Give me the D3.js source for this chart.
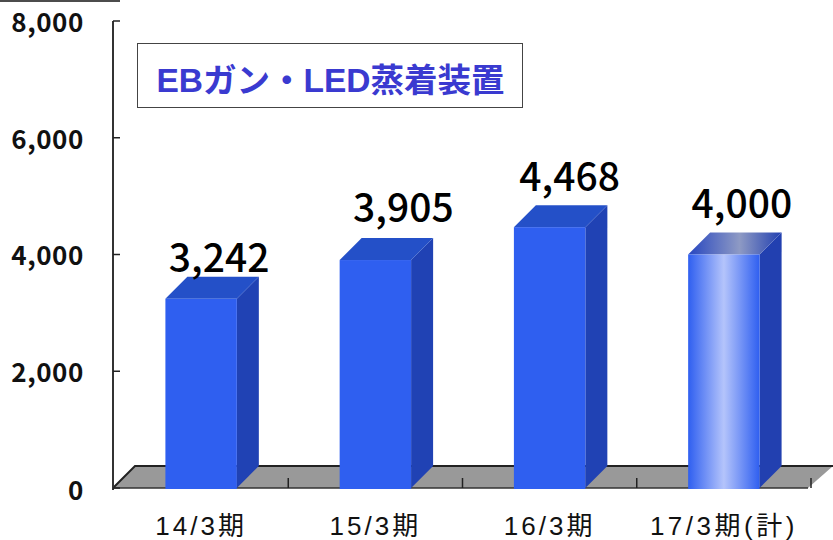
<!DOCTYPE html>
<html lang="ja">
<head>
<meta charset="utf-8">
<title>EBガン・LED蒸着装置</title>
<script src="https://d3js.org/d3.v7.min.js"></script>
<style>
    html, body { margin: 0; padding: 0; background: #fff; }
    svg { display: block; }
    text { font-family: "Noto Sans CJK JP", sans-serif; }
    .latin { font-family: "Liberation Sans", "Noto Sans CJK JP", sans-serif; }
</style>
</head>
<body>
<script>
const categories = ["14/3期", "15/3期", "16/3期", "17/3期(計)"];
const values = [3242, 3905, 4468, 4000];
const valueLabels = ["3,242", "3,905", "4,468", "4,000"];
const yTicks = [0, 2000, 4000, 6000, 8000];
const title = "EBガン・LED蒸着装置";

const width = 833, height = 540;
const depth = 22;

const svg = d3.select("body").append("svg")
    .attr("width", width)
    .attr("height", height);

const y = d3.scaleLinear().domain([0, 8000]).range([488, 21]);
const x = d3.scaleBand().domain(categories).range([114, 811]).paddingInner(0.59).paddingOuter(0.295);

// value labels are not placed evenly in the original
const labelDx = [18, 28, 20, 18];
const labelDy = [27, 38, 36, 37];

// gradient for the forecast bar
const defs = svg.append("defs");
const grad = defs.append("linearGradient").attr("id", "fc");
[[0, "#2f5ff0"], [0.5, "#b4c4fb"], [1, "#2f5ff0"]].forEach(s =>
    grad.append("stop").attr("offset", s[0]).attr("stop-color", s[1]));
const topGrad = defs.append("linearGradient").attr("id", "fcTop");
[[0, "#2746c0"], [0.55, "#8e9ac4"], [1, "#2240b0"]].forEach(s =>
    topGrad.append("stop").attr("offset", s[0]).attr("stop-color", s[1]));

// floor
const x0 = 113, x1 = 808, y0 = y(0);
svg.append("path")
    .attr("d", `M${x0},${y0}L${x0 + depth},${y0 - depth}L${x1 + 25},${y0 - depth}L${x1},${y0}Z`)
    .attr("fill", "#999999");
svg.append("path")
    .attr("d", `M${x0},${y0}L${x0 + depth},${y0 - depth}L${x1 + 25},${y0 - depth}`)
    .attr("fill", "none").attr("stroke", "#222").attr("stroke-width", 2);
svg.append("line")
    .attr("x1", x0).attr("x2", x1).attr("y1", y0).attr("y2", y0)
    .attr("stroke", "#333").attr("stroke-width", 1.5);

// axis lines and ticks
svg.append("line").attr("x1", 0).attr("x2", 120).attr("y1", 1).attr("y2", 1)
    .attr("stroke", "#111").attr("stroke-width", 1.5);
svg.append("line").attr("x1", x0).attr("x2", x0).attr("y1", y(8000)).attr("y2", y0 + 2)
    .attr("stroke", "#333").attr("stroke-width", 2);
svg.selectAll(".ytick").data(yTicks).join("line")
    .attr("x1", x0).attr("x2", x0 + 7)
    .attr("y1", d => y(d)).attr("y2", d => y(d))
    .attr("stroke", "#222").attr("stroke-width", 1.5);
svg.selectAll(".ylab").data(yTicks).join("text")
    .attr("x", 84).attr("y", d => y(d) + (d === 0 ? 3 : 1.5))
    .attr("dy", "0.36em")
    .attr("text-anchor", "end")
    .attr("font-size", 26).attr("font-weight", 700).attr("fill", "#111")
    .attr("letter-spacing", 0.6)
    .text(d => d3.format(",")(d));

// ticks between categories on the floor edge
const step = x.step();
svg.selectAll(".xtick").data(categories).join("line")
    .attr("x1", d => x(d) + x.bandwidth() / 2 + step / 2)
    .attr("x2", d => x(d) + x.bandwidth() / 2 + step / 2)
    .attr("y1", y0 - 10).attr("y2", y0)
    .attr("stroke", "#222").attr("stroke-width", 1.5);

// bars
const bars = svg.selectAll(".bar").data(categories).join("g").attr("class", "bar");
bars.each(function (c, i) {
    const g = d3.select(this);
    const l = x(c), w = x.bandwidth(), t = y(values[i]);
    const forecast = i === 3;
    g.append("path")
        .attr("d", `M${l + w},${t}L${l + w + depth},${t - depth}L${l + w + depth},${y0 - depth}L${l + w},${y0}Z`)
        .attr("fill", forecast ? "#2240b0" : "#2042b4");
    g.append("path")
        .attr("d", `M${l},${t}L${l + depth},${t - depth}L${l + w + depth},${t - depth}L${l + w},${t}Z`)
        .attr("fill", forecast ? "url(#fcTop)" : "#2450c8");
    g.append("rect")
        .attr("x", l).attr("y", t).attr("width", w).attr("height", y0 - t + 1)
        .attr("fill", forecast ? "url(#fc)" : "#2f5ff0");
    g.append("text")
        .attr("x", l + w / 2 + labelDx[i]).attr("y", t - labelDy[i])
        .attr("text-anchor", "middle")
        .attr("font-size", 39).attr("font-weight", 500).attr("fill", "#000")
        .text(valueLabels[i]);
    g.append("text")
        .attr("class", "latin")
        .attr("x", l + w / 2).attr("y", 534.5)
        .attr("text-anchor", "middle")
        .attr("font-size", 26).attr("fill", "#111")
        .attr("letter-spacing", forecast ? 3.5 : 3)
        .text(c);
});

// title box
svg.append("rect")
    .attr("x", 137.5).attr("y", 43.5).attr("width", 385).attr("height", 64)
    .attr("fill", "#fff").attr("stroke", "#444").attr("stroke-width", 1);
svg.append("text")
    .attr("class", "latin")
    .attr("x", 330.5).attr("y", 80)
    .attr("dy", "0.36em")
    .attr("text-anchor", "middle")
    .attr("font-size", 33.5).attr("font-weight", 700).attr("fill", "#3a3ad0")
    .text(title);
</script>
</body>
</html>
